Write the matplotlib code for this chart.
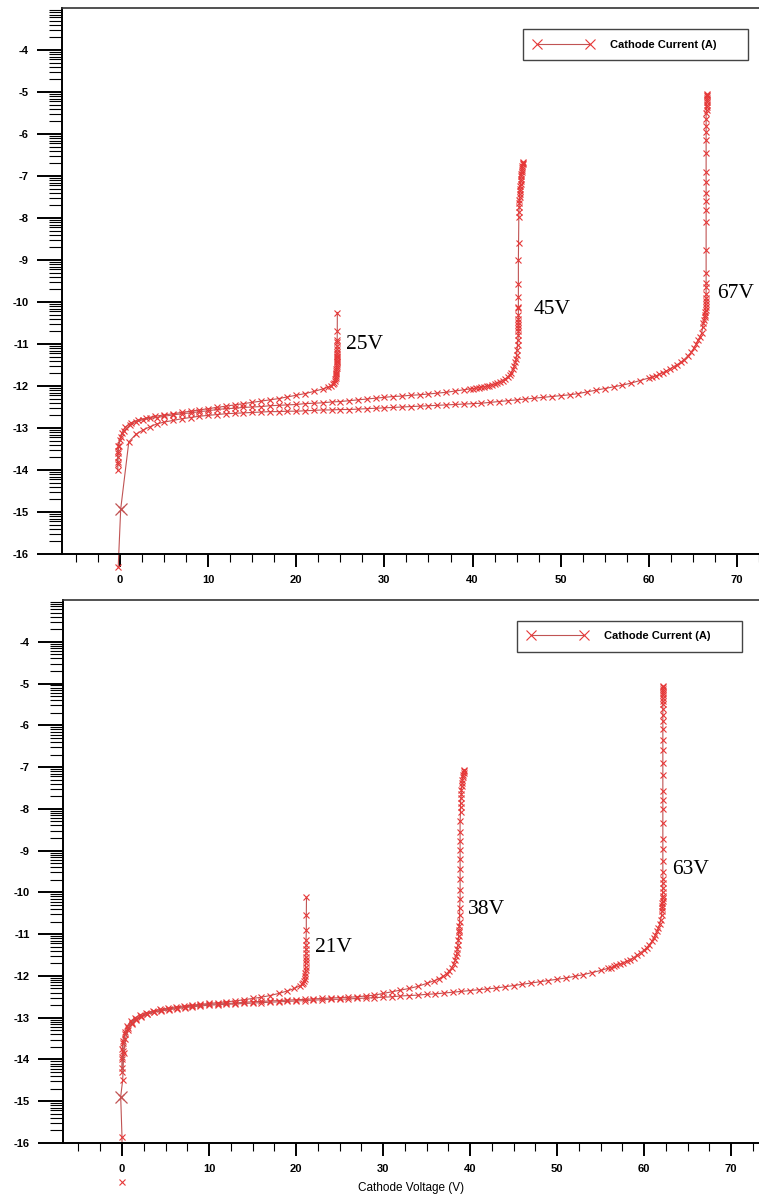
import matplotlib
matplotlib.use("Agg")
import matplotlib.pyplot as plt
import numpy as np

plt.rcParams['axes.unicode_minus'] = False

# ---------------- data (Cathode Voltage V, log10 Cathode Current A) ----------------
top_25v = [
    (-0.25, -13.85), (-0.25, -13.7), (-0.22, -13.55), (-0.18, -13.42), (-0.05, -13.28),
    (0.2, -13.12), (0.6, -12.98), (1.2, -12.88), (2.0, -12.81), (3.0, -12.76),
    (4.0, -12.72), (5.0, -12.69), (6.0, -12.66), (7.0, -12.63), (8.0, -12.6),
    (9.0, -12.57), (10.0, -12.54), (11.0, -12.51), (12.0, -12.48), (13.0, -12.45),
    (14.0, -12.42), (15.0, -12.39), (16.0, -12.36), (17.0, -12.33), (18.0, -12.3),
    (19.0, -12.26), (20.0, -12.22), (21.0, -12.18), (22.0, -12.13), (23.0, -12.07),
    (23.6, -12.03), (23.95, -11.99), (24.15, -11.96), (24.3, -11.92), (24.38, -11.88),
    (24.44, -11.84), (24.48, -11.8), (24.5, -11.76), (24.52, -11.72), (24.54, -11.68),
    (24.55, -11.64), (24.56, -11.6), (24.57, -11.56), (24.58, -11.52), (24.58, -11.48),
    (24.59, -11.44), (24.6, -11.4), (24.6, -11.36), (24.61, -11.32), (24.61, -11.28),
    (24.62, -11.24), (24.62, -11.2), (24.63, -11.12), (24.63, -11.05), (24.64, -10.95),
    (24.64, -10.9), (24.65, -10.68), (24.66, -10.25),
]

top_45v = [
    (-0.25, -14.0), (-0.25, -13.8), (-0.22, -13.6), (-0.15, -13.42), (0.1, -13.22),
    (0.5, -13.06), (1.1, -12.94), (1.8, -12.86), (2.6, -12.8), (3.4, -12.77),
    (4.2, -12.75), (5.0, -12.72), (6.0, -12.69), (7.0, -12.66), (8.0, -12.64),
    (9.0, -12.61), (10.0, -12.59), (11.0, -12.56), (12.0, -12.54), (13.0, -12.53),
    (14.0, -12.51), (15.0, -12.5), (16.0, -12.49), (17.0, -12.47), (18.0, -12.46),
    (19.0, -12.45), (20.0, -12.44), (21.0, -12.42), (22.0, -12.41), (23.0, -12.4),
    (24.0, -12.38), (25.0, -12.37), (26.0, -12.35), (27.0, -12.33), (28.0, -12.31),
    (29.0, -12.29), (30.0, -12.27), (31.0, -12.25), (32.0, -12.24), (33.0, -12.22),
    (34.0, -12.21), (35.0, -12.19), (36.0, -12.17), (37.0, -12.15), (38.0, -12.12),
    (39.0, -12.09), (39.7, -12.07), (40.1, -12.06), (40.4, -12.05), (40.7, -12.04),
    (41.0, -12.03), (41.3, -12.02), (41.6, -12.0), (41.9, -11.99), (42.2, -11.97),
    (42.5, -11.95), (42.8, -11.93), (43.1, -11.9), (43.4, -11.87), (43.7, -11.83),
    (44.0, -11.78), (44.2, -11.74), (44.4, -11.68), (44.6, -11.6), (44.75, -11.52),
    (44.85, -11.44), (44.95, -11.35), (45.0, -11.25), (45.05, -11.15), (45.1, -11.02),
    (45.15, -10.9), (45.2, -10.78), (45.2, -10.7), (45.2, -10.62), (45.2, -10.55),
    (45.2, -10.47), (45.2, -10.4), (45.2, -10.3), (45.2, -10.15), (45.2, -10.11),
    (45.2, -9.87), (45.2, -9.56), (45.2, -9.0), (45.22, -8.6), (45.25, -7.97),
    (45.25, -7.85), (45.3, -7.73), (45.3, -7.65), (45.32, -7.57), (45.35, -7.5),
    (45.35, -7.43), (45.38, -7.36), (45.4, -7.3), (45.42, -7.24), (45.45, -7.18),
    (45.48, -7.12), (45.5, -7.06), (45.52, -7.0), (45.55, -6.95), (45.58, -6.9),
    (45.6, -6.85), (45.63, -6.8), (45.66, -6.76), (45.7, -6.72), (45.72, -6.69),
    (45.75, -6.67),
]

top_67v = [
    (-0.2, -16.3), (0.08, -14.93), (1.0, -13.33), (1.8, -13.15), (2.6, -13.05),
    (3.4, -12.97), (4.2, -12.9), (5.0, -12.86), (6.0, -12.82), (7.0, -12.78),
    (8.0, -12.75), (9.0, -12.72), (10.0, -12.7), (11.0, -12.68), (12.0, -12.66),
    (13.0, -12.65), (14.0, -12.64), (15.0, -12.63), (16.0, -12.62), (17.0, -12.61),
    (18.0, -12.61), (19.0, -12.6), (20.0, -12.6), (21.0, -12.59), (22.0, -12.58),
    (23.0, -12.57), (24.0, -12.57), (25.0, -12.56), (26.0, -12.56), (27.0, -12.55),
    (28.0, -12.54), (29.0, -12.53), (30.0, -12.52), (31.0, -12.51), (32.0, -12.5),
    (33.0, -12.49), (34.0, -12.48), (35.0, -12.47), (36.0, -12.46), (37.0, -12.45),
    (38.0, -12.44), (39.0, -12.43), (40.0, -12.42), (41.0, -12.41), (42.0, -12.39),
    (43.0, -12.37), (44.0, -12.35), (45.0, -12.33), (46.0, -12.31), (47.0, -12.29),
    (48.0, -12.27), (49.0, -12.25), (50.0, -12.23), (51.0, -12.21), (52.0, -12.18),
    (53.0, -12.14), (54.0, -12.1), (55.0, -12.06), (56.0, -12.02), (57.0, -11.98),
    (58.0, -11.93), (59.0, -11.87), (60.0, -11.81), (60.4, -11.79), (60.8, -11.76),
    (61.2, -11.72), (61.6, -11.68), (62.0, -11.64), (62.4, -11.59), (62.8, -11.54),
    (63.2, -11.49), (63.6, -11.44), (64.0, -11.37), (64.4, -11.29), (64.8, -11.2),
    (65.1, -11.1), (65.4, -11.0), (65.6, -10.9), (65.8, -10.83), (66.0, -10.74),
    (66.1, -10.6), (66.2, -10.5), (66.3, -10.42), (66.35, -10.36), (66.4, -10.3),
    (66.4, -10.24), (66.45, -10.18), (66.45, -10.12), (66.45, -10.05), (66.5, -9.98),
    (66.5, -9.9), (66.5, -9.8), (66.5, -9.64), (66.5, -9.55), (66.5, -9.3),
    (66.5, -8.76), (66.5, -8.1), (66.5, -7.8), (66.5, -7.6), (66.5, -7.4),
    (66.5, -7.14), (66.5, -6.9), (66.5, -6.46), (66.5, -6.14), (66.5, -5.95),
    (66.5, -5.8), (66.5, -5.65), (66.5, -5.5), (66.55, -5.43), (66.55, -5.36),
    (66.55, -5.3), (66.6, -5.24), (66.6, -5.18), (66.6, -5.14), (66.6, -5.1),
    (66.6, -5.07), (66.6, -5.05),
]

bot_21v = [
    (0.0, -14.2), (0.02, -13.95), (0.05, -13.75), (0.1, -13.55), (0.3, -13.35),
    (0.6, -13.2), (1.0, -13.08), (1.5, -13.0), (2.1, -12.93), (2.8, -12.88),
    (3.6, -12.84), (4.4, -12.8), (5.3, -12.77), (6.2, -12.74), (7.1, -12.72),
    (8.0, -12.7), (9.0, -12.68), (10.0, -12.66), (11.0, -12.64), (12.0, -12.62),
    (13.0, -12.6), (14.0, -12.57), (15.0, -12.54), (16.0, -12.51), (17.0, -12.47),
    (18.0, -12.42), (19.0, -12.36), (19.8, -12.3), (20.4, -12.24), (20.7, -12.2),
    (20.85, -12.16), (20.95, -12.12), (21.0, -12.08), (21.05, -12.0), (21.05, -11.92),
    (21.1, -11.85), (21.1, -11.78), (21.1, -11.7), (21.12, -11.62), (21.12, -11.55),
    (21.15, -11.45), (21.15, -11.35), (21.15, -11.25), (21.15, -11.13), (21.18, -10.9),
    (21.18, -10.55), (21.2, -10.12),
]

bot_38v = [
    (0.0, -14.3), (0.03, -14.0), (0.08, -13.8), (0.15, -13.6), (0.35, -13.4),
    (0.7, -13.24), (1.1, -13.12), (1.6, -13.03), (2.2, -12.96), (2.9, -12.9),
    (3.7, -12.86), (4.5, -12.82), (5.4, -12.79), (6.3, -12.76), (7.2, -12.74),
    (8.1, -12.72), (9.0, -12.7), (10.0, -12.68), (11.0, -12.67), (12.0, -12.66),
    (13.0, -12.65), (14.0, -12.63), (15.0, -12.62), (16.0, -12.61), (17.0, -12.6),
    (18.0, -12.59), (19.0, -12.58), (20.0, -12.57), (21.0, -12.56), (22.0, -12.55),
    (23.0, -12.54), (24.0, -12.53), (25.0, -12.52), (26.0, -12.51), (27.0, -12.5),
    (28.0, -12.48), (29.0, -12.46), (30.0, -12.42), (31.0, -12.38), (32.0, -12.34),
    (33.0, -12.3), (34.0, -12.25), (35.0, -12.18), (35.8, -12.12), (36.4, -12.07),
    (36.9, -12.01), (37.3, -11.95), (37.6, -11.88), (37.9, -11.8), (38.1, -11.72),
    (38.3, -11.62), (38.4, -11.52), (38.5, -11.44), (38.55, -11.35), (38.6, -11.25),
    (38.65, -11.15), (38.7, -11.05), (38.7, -10.95), (38.75, -10.89), (38.75, -10.8),
    (38.8, -10.72), (38.8, -10.55), (38.8, -10.38), (38.85, -10.17), (38.85, -9.95),
    (38.85, -9.69), (38.85, -9.45), (38.85, -9.2), (38.85, -8.98), (38.85, -8.78),
    (38.85, -8.55), (38.85, -8.29), (38.9, -8.08), (38.9, -7.95), (38.9, -7.85),
    (38.95, -7.75), (39.0, -7.65), (39.0, -7.55), (39.05, -7.45), (39.1, -7.38),
    (39.1, -7.3), (39.15, -7.24), (39.2, -7.18), (39.25, -7.13), (39.3, -7.09),
    (39.35, -7.06),
]

bot_63v = [
    (0.0, -16.94), (0.0, -15.86), (-0.15, -14.89), (0.08, -14.49), (0.2, -13.85),
    (0.4, -13.5), (0.7, -13.3), (1.1, -13.15), (1.6, -13.05), (2.2, -12.98),
    (2.9, -12.92), (3.7, -12.87), (4.5, -12.84), (5.4, -12.81), (6.3, -12.78),
    (7.2, -12.76), (8.1, -12.74), (9.0, -12.72), (10.0, -12.7), (11.0, -12.69),
    (12.0, -12.68), (13.0, -12.67), (14.0, -12.66), (15.0, -12.65), (16.0, -12.64),
    (17.0, -12.63), (18.0, -12.62), (19.0, -12.61), (20.0, -12.6), (21.0, -12.59),
    (22.0, -12.58), (23.0, -12.57), (24.0, -12.56), (25.0, -12.56), (26.0, -12.55),
    (27.0, -12.54), (28.0, -12.53), (29.0, -12.52), (30.0, -12.51), (31.0, -12.5),
    (32.0, -12.48), (33.0, -12.47), (34.0, -12.46), (35.0, -12.44), (36.0, -12.43),
    (37.0, -12.41), (38.0, -12.39), (39.0, -12.37), (40.0, -12.35), (41.0, -12.33),
    (42.0, -12.31), (43.0, -12.29), (44.0, -12.26), (45.0, -12.23), (46.0, -12.2),
    (47.0, -12.17), (48.0, -12.14), (49.0, -12.11), (50.0, -12.08), (51.0, -12.05),
    (52.0, -12.01), (53.0, -11.97), (54.0, -11.92), (55.0, -11.87), (55.8, -11.82),
    (56.2, -11.8), (56.5, -11.77), (56.8, -11.75), (57.2, -11.72), (57.6, -11.69),
    (58.0, -11.65), (58.4, -11.61), (58.8, -11.56), (59.2, -11.5), (59.6, -11.44),
    (60.0, -11.38), (60.3, -11.32), (60.6, -11.25), (60.9, -11.17), (61.1, -11.1),
    (61.3, -11.02), (61.5, -10.93), (61.65, -10.85), (61.8, -10.75), (61.9, -10.65),
    (62.0, -10.55), (62.05, -10.45), (62.1, -10.38), (62.1, -10.32), (62.1, -10.26),
    (62.12, -10.2), (62.12, -10.14), (62.12, -10.08), (62.12, -10.0), (62.15, -9.9),
    (62.15, -9.78), (62.15, -9.69), (62.15, -9.5), (62.15, -9.25), (62.15, -8.95),
    (62.15, -8.73), (62.15, -8.35), (62.15, -8.0), (62.15, -7.8), (62.15, -7.58),
    (62.15, -7.2), (62.15, -6.9), (62.15, -6.6), (62.15, -6.35), (62.15, -6.1),
    (62.15, -5.9), (62.15, -5.75), (62.15, -5.6), (62.15, -5.5), (62.15, -5.42),
    (62.15, -5.35), (62.15, -5.28), (62.15, -5.22), (62.15, -5.17), (62.15, -5.12),
    (62.15, -5.08), (62.15, -5.05),
]

top_labels = ["25V", "45V", "67V"]
bot_labels = ["21V", "38V", "63V"]
legend_label = "Cathode Current (A)"
x_label = "Cathode Voltage (V)"
y_major = list(range(-16, -3))
x_major = list(range(0, 80, 10))

# ---------------- style ----------------
LINE_C = "#c05454"
MARK_C = "#e63838"
MS = 4.6
MEW = 0.8
narrow = ["Liberation Sans Narrow", "Liberation Sans", "DejaVu Sans"]
sans = ["Liberation Sans", "DejaVu Sans"]
serif = ["Liberation Serif", "DejaVu Serif"]

fig = plt.figure(figsize=(7.59, 11.96), dpi=100)
W, H = 759.0, 1196.0


def make_axes(left_px, top_px, bottom_px, xlim):
    ax = fig.add_axes([left_px / W, 1 - bottom_px / H, 1 - left_px / W,
                       (bottom_px - top_px) / H])
    ax.set_xlim(*xlim)
    ax.set_ylim(-16, -3)
    ax.spines['right'].set_visible(False)
    ax.spines['left'].set_linewidth(1.4)
    ax.spines['bottom'].set_linewidth(1.4)
    ax.spines['top'].set_linewidth(1.2)
    ax.spines['top'].set_color('#333333')
    ax.set_yticks(y_major)
    ax.set_yticklabels([str(v) for v in y_major], fontfamily=sans,
                       fontweight='bold', fontsize=8)
    minor_y = [d + np.log10(k) for d in range(-16, -3) for k in range(2, 10)]
    ax.set_yticks(minor_y, minor=True)
    ax.tick_params(axis='y', which='major', length=18, width=1.4, pad=6,
                   direction='out')
    ax.tick_params(axis='y', which='minor', length=9.5, width=0.8,
                   direction='out')
    ax.set_xticks(x_major)
    ax.set_xticklabels([str(v) for v in x_major], fontfamily=narrow,
                       fontweight='bold', fontsize=8)
    ax.set_xticks(np.arange(-5, 73, 2.5), minor=True)
    ax.tick_params(axis='x', which='major', length=9, width=1.4, pad=6)
    ax.tick_params(axis='x', which='minor', length=5.5, width=0.8)
    return ax


def draw_curve(ax, pts, label=None, clip=True):
    xs = [p[0] for p in pts]
    ys = [p[1] for p in pts]
    ax.plot(xs, ys, color=LINE_C, lw=0.8, marker='x', ms=MS, mew=MEW,
            mec=MARK_C, label=label, clip_on=clip)
    return xs, ys


def add_legend(ax, x0, y_bottom, w, h):
    leg = ax.legend(loc='center left', bbox_to_anchor=(x0, y_bottom, w, h),
                    mode='expand', numpoints=2, markerscale=1.6,
                    handlelength=5.4, handletextpad=1.5, borderpad=0.95,
                    borderaxespad=0, fancybox=False, framealpha=1,
                    prop={'family': sans, 'weight': 'bold', 'size': 8})
    leg.get_frame().set_edgecolor('#444444')
    leg.get_frame().set_linewidth(1.0)


# ---------------- top panel ----------------
ax1 = make_axes(62, 8, 554, (-6.58, 72.5))
draw_curve(ax1, top_25v, label=legend_label)
draw_curve(ax1, top_45v)
cx, cy = draw_curve(ax1, top_67v, clip=False)
ax1.plot(cx[1:2], cy[1:2], ls='none', marker='x', ms=9, mew=0.9, mec=LINE_C)
ax1.text(25.6, -11.02, top_labels[0], fontfamily=serif, fontsize=15.5,
         va='center', ha='left')
ax1.text(46.9, -10.19, top_labels[1], fontfamily=serif, fontsize=15.5,
         va='center', ha='left')
ax1.text(67.8, -9.79, top_labels[2], fontfamily=serif, fontsize=15.5,
         va='center', ha='left')
add_legend(ax1, 0.661, 0.901, 0.323, 0.064)

# ---------------- bottom panel ----------------
ax2 = make_axes(63, 600, 1143, (-6.78, 73.2))
draw_curve(ax2, bot_21v, label=legend_label)
draw_curve(ax2, bot_38v)
fx, fy = draw_curve(ax2, bot_63v)
ax2.plot(fx[:1], fy[:1], ls='none', marker='x', ms=MS, mew=MEW, mec=MARK_C,
         clip_on=False)
ax2.plot(fx[2:3], fy[2:3], ls='none', marker='x', ms=8, mew=0.9, mec=LINE_C)
ax2.text(22.2, -11.32, bot_labels[0], fontfamily=serif, fontsize=15.5,
         va='center', ha='left')
ax2.text(39.8, -10.41, bot_labels[1], fontfamily=serif, fontsize=15.5,
         va='center', ha='left')
ax2.text(63.2, -9.45, bot_labels[2], fontfamily=serif, fontsize=15.5,
         va='center', ha='left')
ax2.set_xlabel(x_label, fontfamily=narrow, fontsize=8.5)
ax2.xaxis.set_label_coords(0.5, -45.0 / 543.0)
ax2.xaxis.label.set_va('center')
add_legend(ax2, 0.652, 0.904, 0.324, 0.059)

fig.savefig("out.png", dpi=100)
